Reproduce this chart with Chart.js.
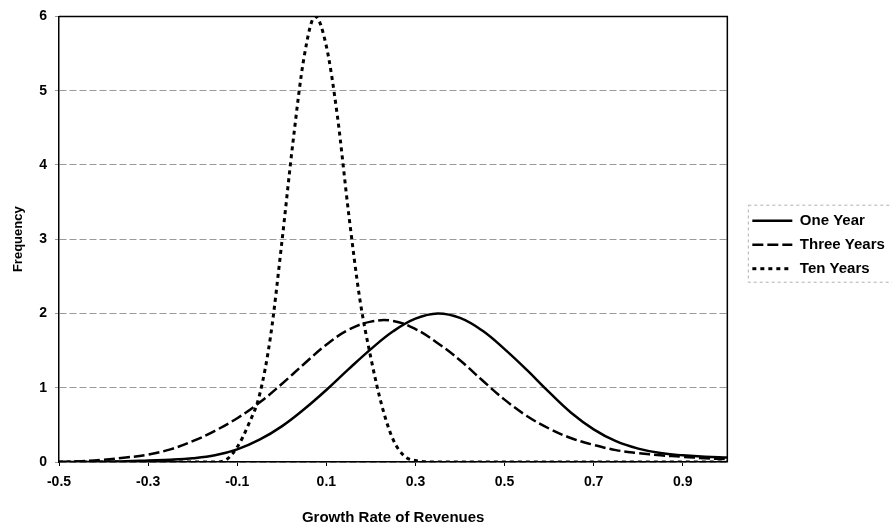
<!DOCTYPE html>
<html>
<head>
<meta charset="utf-8">
<script src="https://cdn.jsdelivr.net/npm/chart.js@4.4.1/dist/chart.umd.min.js"></script>
<style>
  html, body { margin: 0; padding: 0; background: #fff; }
  #wrap { width: 892px; height: 532px; }
</style>
</head>
<body>
<div id="wrap"><canvas id="chart" width="892" height="532"></canvas></div>
<script>
// growth rate grid for the one- and three-year curves
const rates = [-0.5, -0.45, -0.4, -0.35, -0.3, -0.25, -0.2, -0.15, -0.1, -0.05,
  0, 0.05, 0.1, 0.15, 0.2, 0.25, 0.3, 0.35, 0.4, 0.45,
  0.5, 0.55, 0.6, 0.65, 0.7, 0.75, 0.8, 0.85, 0.9, 0.95, 1.0];

const oneYear = [0, 0, 0.005, 0.01, 0.02, 0.03, 0.05, 0.09, 0.17, 0.3,
  0.48, 0.71, 0.97, 1.25, 1.52, 1.76, 1.93, 2.0, 1.94, 1.77,
  1.52, 1.24, 0.94, 0.66, 0.44, 0.28, 0.18, 0.12, 0.09, 0.07, 0.06];

const threeYears = [0, 0.01, 0.03, 0.06, 0.1, 0.17, 0.28, 0.42, 0.59, 0.8,
  1.05, 1.32, 1.58, 1.78, 1.89, 1.9, 1.79, 1.6, 1.37, 1.1,
  0.84, 0.62, 0.45, 0.32, 0.23, 0.16, 0.12, 0.09, 0.07, 0.05, 0.04];

// ten-year curve is much narrower, so it gets its own grid
const tenRates = [-0.5, -0.2, -0.15, -0.125, -0.1, -0.075, -0.05, -0.025, 0, 0.025,
  0.05, 0.075, 0.1, 0.125, 0.15, 0.175, 0.2, 0.225, 0.25, 0.275,
  0.3, 0.35, 1.0];
const tenYears = [0, 0, 0, 0.03, 0.2, 0.5, 0.9, 1.7, 2.95, 4.3,
  5.45, 6.0, 5.6, 4.65, 3.35, 2.2, 1.4, 0.75, 0.3, 0.08,
  0.02, 0, 0];

const xTicks = [-0.5, -0.3, -0.1, 0.1, 0.3, 0.5, 0.7, 0.9];
const yTicks = [0, 1, 2, 3, 4, 5, 6];

const FONT = '"Liberation Sans", Arial, sans-serif';

const toPoints = (xs, ys) => xs.map((x, i) => ({ x: x, y: ys[i] }));

const frameBox = {
  id: 'frameBox',
  afterDatasetsDraw(chart) {
    const { ctx, chartArea: a } = chart;
    ctx.save();
    ctx.strokeStyle = '#000';
    ctx.lineWidth = 1.5;
    ctx.beginPath();
    ctx.moveTo(a.left, a.top);
    ctx.lineTo(a.right, a.top);
    ctx.lineTo(a.right, a.bottom);
    ctx.stroke();
    ctx.restore();
  },
  afterDraw(chart) {
    // faint dotted box round the legend, as in the scan
    const lg = chart.legend;
    if (!lg || !lg.legendHitBoxes.length) return;
    const first = lg.legendHitBoxes[0];
    const last = lg.legendHitBoxes[lg.legendHitBoxes.length - 1];
    const { ctx } = chart;
    ctx.save();
    ctx.strokeStyle = '#b0b0b0';
    ctx.lineWidth = 1;
    ctx.setLineDash([3, 3]);
    const l = first.left - 4, t = first.top - 8;
    ctx.strokeRect(l, t, 900 - l, last.top + last.height + 6 - t);
    ctx.restore();
  }
};

new Chart(document.getElementById('chart').getContext('2d'), {
  type: 'line',
  data: {
    datasets: [
      {
        label: 'One Year',
        data: toPoints(rates, oneYear),
        borderColor: '#000',
        borderWidth: 2.5,
        pointRadius: 0,
        tension: 0.4
      },
      {
        label: 'Three Years',
        data: toPoints(rates, threeYears),
        borderColor: '#000',
        borderWidth: 2.5,
        borderDash: [11, 4],
        pointRadius: 0,
        tension: 0.4
      },
      {
        label: 'Ten Years',
        data: toPoints(tenRates, tenYears),
        borderColor: '#000',
        borderWidth: 3,
        borderDash: [4, 4],
        pointRadius: 0,
        cubicInterpolationMode: 'monotone'
      }
    ]
  },
  options: {
    responsive: false,
    animation: false,
    layout: { padding: { top: 16, left: 0, right: 0, bottom: 0 } },
    plugins: {
      tooltip: { enabled: false },
      legend: {
        position: 'right',
        fullSize: false,
        title: { display: true, text: ' ', padding: 0, font: { size: 10, lineHeight: 1.1 } },
        labels: {
          usePointStyle: true,
          pointStyle: 'line',
          pointStyleWidth: 40,
          padding: 9,
          color: '#000',
          font: { family: FONT, size: 15, weight: 'bold' },
          generateLabels: (chart) => {
            const items = Chart.defaults.plugins.legend.labels.generateLabels(chart);
            items.forEach((it) => {
              const ds = chart.data.datasets[it.datasetIndex];
              it.lineDash = ds.borderDash || [];
              it.lineWidth = ds.borderWidth;
              it.strokeStyle = '#000';
            });
            return items;
          }
        }
      }
    },
    scales: {
      x: {
        type: 'linear',
        min: -0.5,
        max: 1.0,
        afterBuildTicks: (s) => { s.ticks = xTicks.map(v => ({ value: v })); },
        afterFit: (s) => { s.height = 70; },
        grid: { drawOnChartArea: false, drawTicks: true, tickLength: 4, color: '#000' },
        border: { display: true, color: '#000', width: 1.5 },
        ticks: {
          padding: 8,
          maxRotation: 0,
          color: '#000',
          font: { family: FONT, size: 14, weight: 'bold' },
          callback: (v) => v.toFixed(1)
        },
        title: {
          display: true,
          text: 'Growth Rate of Revenues',
          color: '#000',
          padding: { top: 4, bottom: 5 },
          font: { family: FONT, size: 15, weight: 'bold' }
        }
      },
      y: {
        min: 0,
        max: 6,
        afterBuildTicks: (s) => { s.ticks = yTicks.map(v => ({ value: v })); },
        afterFit: (s) => { s.width = 59; },
        grid: {
          color: '#9a9a9a',
          lineWidth: 1,
          tickLength: 4,
          tickColor: '#9a9a9a'
        },
        border: { display: true, color: '#000', width: 1.5, dash: [7, 3] },
        ticks: {
          padding: 8,
          color: '#000',
          font: { family: FONT, size: 14, weight: 'bold' }
        },
        title: {
          display: true,
          text: 'Frequency',
          color: '#000',
          padding: { top: 11, bottom: 0 },
          font: { family: FONT, size: 13, weight: 'bold' }
        }
      },
      gap: {
        // empty axis only to keep the legend off the plot edge
        position: 'right',
        display: true,
        grid: { display: false, drawTicks: false },
        border: { display: false },
        ticks: { display: false },
        afterFit: (s) => { s.width = 16; }
      }
    }
  },
  plugins: [frameBox]
});
</script>
</body>
</html>
